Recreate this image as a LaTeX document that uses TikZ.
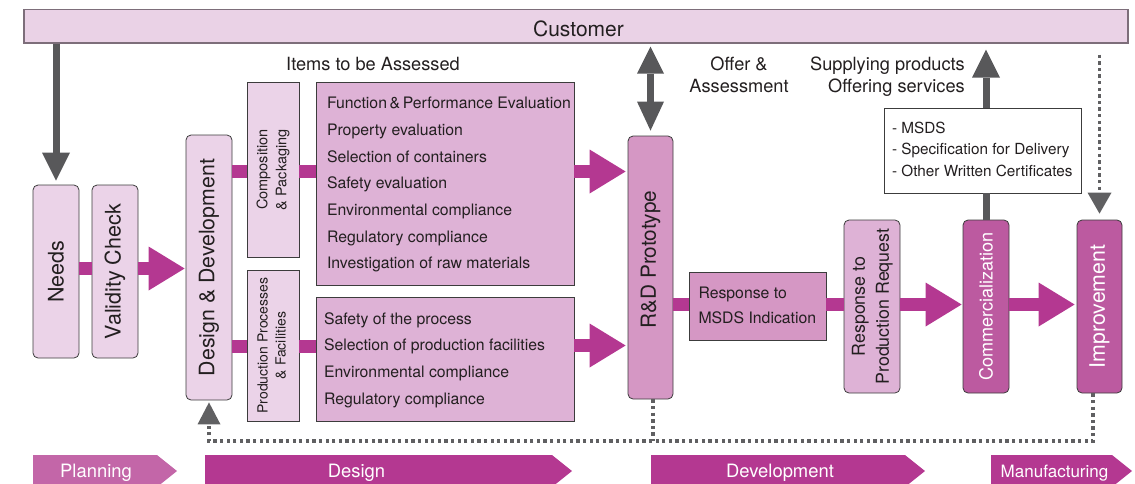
\documentclass[tikz,border=0pt]{standalone}
\usepackage{fontspec}
\usepackage{graphicx}
\setmainfont{TeX Gyre Heros}
\usetikzlibrary{arrows.meta}
\definecolor{pinkL}{HTML}{EBD3E8}
\definecolor{custF}{HTML}{EAD2E6}
\definecolor{custB}{HTML}{7D6E7A}
\definecolor{pinkM}{HTML}{DEB2D6}
\definecolor{pinkR}{HTML}{D597C4}
\definecolor{pinkD}{HTML}{BC5AA0}
\definecolor{mag}{HTML}{B43891}
\definecolor{magL}{HTML}{C366A8}
\definecolor{grayA}{HTML}{58585A}
\definecolor{grayD}{HTML}{606062}
\definecolor{txt}{HTML}{231F20}
\definecolor{bord}{HTML}{3C3C3C}
\newcommand{\leftlines}[2]{\makebox[#1][l]{\begin{tabular}{@{}l@{}}#2\end{tabular}}}
\tikzset{
  box/.style={draw=bord, line width=0.8pt, inner sep=0pt, text=txt},
  rbox/.style={box, rounded corners=5pt},
  conn/.style={draw=mag, line width=13pt},
  bigarrow/.style={conn, -{Triangle[length=36pt,width=44pt,line width=0pt]}},
  grayarrow/.style={draw=grayA, line width=7pt, -{Triangle[length=28pt,width=28pt,line width=0pt]}},
  grayline/.style={draw=grayA, line width=7pt},
  dotline/.style={draw=grayD, line width=3.3pt, dash pattern=on 3.3pt off 3.3pt},
  lbl/.style={inner sep=0pt, text=txt},
  phtxt/.style={inner sep=0pt, text=white, font=\fontsize{18.4}{22}\selectfont, anchor=base},
}
\begin{document}
\begin{tikzpicture}[x=1pt,y=-1pt]
\useasboundingbox (0,0) rectangle (1135,483);

% rows
\coordinate (rowA) at (0,268.5);
\coordinate (rowB) at (0,171.5);
\coordinate (rowC) at (0,346);
\coordinate (rowD) at (0,345.5);
\coordinate (rowE) at (0,304.5);

% customer bar
\node[box, draw=custB, line width=1.2pt, fill=custF, minimum width=1104pt, minimum height=33.5pt] (customer) at (576,26.3) {};
\node[lbl, anchor=base, font=\fontsize{21}{25}\selectfont] (custtxt) at (578.5,36) {Customer};

% planning boxes
\node[rbox, fill=pinkL, minimum width=46pt, minimum height=173pt] (needs) at (56,271.5)
  {\rotatebox{90}{\fontsize{21.5}{26}\selectfont Needs}};
\node[rbox, fill=pinkL, minimum width=46pt, minimum height=173pt] (validity) at (115,271.5)
  {\rotatebox{90}{\fontsize{21.5}{26}\selectfont Validity Check}};
\node[rbox, fill=pinkL, minimum width=46pt, minimum height=265pt] (design) at (209,267.5)
  {\rotatebox{90}{\fontsize{21.3}{26}\selectfont Design \& Development}};

% composition / production
\node[box, fill=pinkL, minimum width=52pt, minimum height=175pt] (comp) at (273,169.5)
  {\rotatebox{90}{\fontsize{14.5}{19}\selectfont\begin{tabular}{@{}c@{}}Composition\\\& Packaging\end{tabular}}};
\node[box, fill=pinkL, minimum width=52pt, minimum height=151pt] (prod) at (273,345.5)
  {\rotatebox{90}{\fontsize{14}{18}\selectfont\begin{tabular}{@{}c@{}}Production Processes\\\& Facilities\end{tabular}}};

\node[lbl, anchor=base, font=\fontsize{18.2}{22}\selectfont] (itemshead) at (373,70.5) {Items to be Assessed};

\node[box, fill=pinkM, minimum width=258pt, minimum height=203pt,
  font=\fontsize{15.8}{26.7}\selectfont] (items1) at (445,183.5)
  {\leftlines{236pt}{Function\,\&\,Performance Evaluation\\Property evaluation\\Selection of containers\\Safety evaluation\\Environmental compliance\\Regulatory compliance\\Investigation of raw materials}};
\node[box, fill=pinkM, minimum width=258pt, minimum height=124pt,
  font=\fontsize{15.8}{26.7}\selectfont] (items2) at (445,359)
  {\leftlines{242pt}{Safety of the process\\Selection of production facilities\\Environmental compliance\\Regulatory compliance}};

% development
\node[rbox, fill=pinkR, minimum width=45pt, minimum height=263pt] (rd) at (650.5,267.5)
  {\rotatebox{90}{\fontsize{20.8}{25}\selectfont\hspace*{16pt}R\&D Prototype}};
\node[box, fill=pinkR, minimum width=137pt, minimum height=68pt,
  font=\fontsize{15.8}{25}\selectfont] (msdsind) at (757.5,306)
  {\leftlines{118pt}{Response to\\MSDS Indication}};
\node[rbox, fill=pinkM, minimum width=56pt, minimum height=173pt] (resprod) at (872,306.5)
  {\rotatebox{90}{\fontsize{17.8}{24}\selectfont\begin{tabular}{@{}c@{}}Response to\\Production Request\end{tabular}}};
\node[rbox, fill=pinkD, text=white, minimum width=46pt, minimum height=173pt] (comm) at (986,306.5)
  {\rotatebox{90}{\fontsize{18.1}{22}\selectfont Commercialization}};
\node[rbox, fill=pinkD, text=white, minimum width=45pt, minimum height=173pt] (impr) at (1099.5,306.5)
  {\rotatebox{90}{\fontsize{21.3}{26}\selectfont Improvement}};

\node[box, fill=white, minimum width=197pt, minimum height=85pt,
  font=\fontsize{15.3}{21.5}\selectfont] (msdsbox) at (982.5,150.5)
  {\leftlines{181pt}{- MSDS\\- Specification for Delivery\\- Other Written Certificates}};

\node[lbl, align=center, font=\fontsize{18.2}{21.5}\selectfont] (offer) at (739,74.7) {Offer \&\\Assessment};
\node[lbl, align=right, anchor=east, font=\fontsize{18.2}{21.5}\selectfont] (supply) at (965,76.6) {Supplying products\\Offering services};

% magenta connectors
\draw[conn] (needs.east |- rowA) -- (validity.west |- rowA);
\draw[bigarrow] (validity.east |- rowA) -- ([xshift=-1pt]design.west |- rowA);
\draw[conn] (design.east |- rowB) -- (comp.west |- rowB);
\draw[conn] (comp.east |- rowB) -- (items1.west |- rowB);
\draw[conn] (design.east |- rowC) -- (prod.west |- rowC);
\draw[conn] (prod.east |- rowC) -- (items2.west |- rowC);
\draw[bigarrow] (items1.east |- rowB) -- ([xshift=-2pt]rd.west |- rowB);
\draw[bigarrow] (items2.east |- rowD) -- ([xshift=-2pt]rd.west |- rowD);
\draw[conn] (rd.east |- rowE) -- (msdsind.west |- rowE);
\draw[conn] (msdsind.east |- rowE) -- (resprod.west |- rowE);
\draw[bigarrow] (resprod.east |- rowE) -- ([xshift=-1pt]comm.west |- rowE);
\draw[bigarrow] (comm.east |- rowE) -- ([xshift=-2pt]impr.west |- rowE);

% gray arrows
\draw[grayarrow, shorten >=4pt] (customer.south -| needs.north) -- (needs.north);
\draw[draw=grayA, line width=7pt, {Triangle[length=27pt,width=27pt,line width=0pt]}-{Triangle[length=29pt,width=27pt,line width=0pt]}, shorten <=3pt, shorten >=5pt]
  (customer.south -| rd.north) -- (rd.north);
\draw[grayline] (comm.north) -- (msdsbox.south -| comm.north);
\draw[grayarrow, shorten >=6pt] (msdsbox.north -| comm.north) -- (customer.south -| comm.north);

% dotted connectors
\draw[dotline, -{Triangle[length=21pt,width=24pt,line width=0pt]}, shorten <=11pt, shorten >=6pt]
  (customer.south -| impr.north) -- (impr.north);
\coordinate (fbR) at ([xshift=-6.5pt]impr.south |- {(0,441)});
\coordinate (fbM) at ([xshift=2.5pt]rd.south |- {(0,441)});
\coordinate (fbL) at (design.south |- {(0,441)});
\draw[dotline] ([xshift=2.5pt]rd.south) -- (fbM);
\draw[dotline, -{Triangle[length=22pt,width=23pt,line width=0pt]}, shorten >=2pt]
  ([xshift=-6.5pt]impr.south) -- (fbR) -- (fbL) -- (design.south);

% phases
\fill[magL] (33,455) -- (157,455) -- (177,471) -- (157,487) -- (33,487) -- cycle;
\node[phtxt] (planning) at (96,477) {Planning};
\fill[mag] (205,455) -- (552,455) -- (572,471) -- (552,487) -- (205,487) -- cycle;
\node[phtxt] (phdesign) at (356.5,477) {Design};
\fill[mag] (651,455) -- (905,455) -- (925,471) -- (905,487) -- (651,487) -- cycle;
\node[phtxt] (phdev) at (780,477) {Development};
\fill[mag] (991,455) -- (1112,455) -- (1132,471) -- (1112,487) -- (991,487) -- cycle;
\node[phtxt, font=\fontsize{17}{21}\selectfont] (phman) at (1054.5,477) {Manufacturing};
\end{tikzpicture}
\end{document}
